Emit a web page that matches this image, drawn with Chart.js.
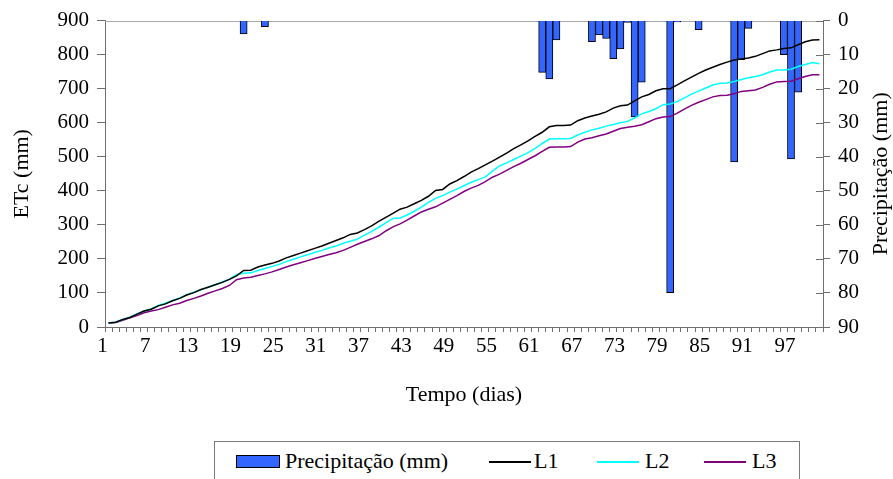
<!DOCTYPE html>
<html>
<head>
<meta charset="utf-8">
<title>ETc e precipitação</title>
<script src="https://cdn.jsdelivr.net/npm/chart.js@4/dist/chart.umd.min.js"></script>
<style>
  html, body { margin: 0; padding: 0; background: #fff; }
  #wrap { position: relative; width: 893px; height: 479px; overflow: hidden;
          font-family: "Liberation Serif", serif; }
  #chart { position: absolute; left: 0; top: 0; }
  #legendBox { position: absolute; left: 214px; top: 441px; width: 586px; height: 60px;
               border: 1px solid #7a7a7a; box-sizing: border-box; background: #fff; }
  .lg { position: absolute; }
  .lgText { font-size: 22px; line-height: 26px; top: 448px; color: #000; white-space: nowrap; }
  .lgRect { top: 455px; width: 44px; height: 13px; box-sizing: border-box; border: 1px solid #000; }
  .lgLine { top: 461px; width: 42px; height: 2px; }
</style>
</head>
<body>
<div id="wrap">
  <canvas id="chart" width="893" height="479"></canvas>
  <div id="legendBox"></div>
</div>
<script>
// Days after planting (category axis)
const days = [
  1, 2, 3, 4, 5, 6, 7, 8, 9, 10, 11, 12, 13, 14, 15, 16, 17, 18, 19, 20,
  21, 22, 23, 24, 25, 26, 27, 28, 29, 30, 31, 32, 33, 34, 35, 36, 37, 38, 39, 40,
  41, 42, 43, 44, 45, 46, 47, 48, 49, 50, 51, 52, 53, 54, 55, 56, 57, 58, 59, 60,
  61, 62, 63, 64, 65, 66, 67, 68, 69, 70, 71, 72, 73, 74, 75, 76, 77, 78, 79, 80,
  81, 82, 83, 84, 85, 86, 87, 88, 89, 90, 91, 92, 93, 94, 95, 96, 97, 98, 99, 100, 101
];

// Labelled days on the time axis
const xTickLabels = ['1', '7', '13', '19', '25', '31', '37', '43', '49', '55', '61', '67', '73', '79', '85', '91', '97'];

// Accumulated crop evapotranspiration (mm) for each treatment
const etcL1 = [
  12, 14, 22, 28, 38, 47, 52, 62, 68, 77, 84, 94, 101, 110, 117, 124, 131, 140, 150, 166,
  167, 176, 182, 187, 194, 203, 210, 217, 224, 231, 238, 246, 254, 262, 272, 276, 286, 297, 310, 322,
  334, 346, 352, 362, 372, 384, 401, 404, 420, 430, 442, 455, 465, 476, 487, 499, 511, 524, 535, 547,
  560, 572, 588, 592, 592, 593, 606, 614, 620, 625, 632, 643, 650, 652, 664, 676, 683, 694, 700, 700,
  711, 723, 734, 745, 755, 763, 771, 778, 784, 787, 790, 795, 803, 811, 814, 818, 820, 829, 838, 843, 844
];
const etcL2 = [
  12, 14, 22, 29, 38, 47, 53, 63, 70, 77, 85, 95, 102, 109, 117, 124, 132, 140, 154, 158,
  159, 166, 172, 178, 184, 192, 199, 206, 212, 219, 225, 232, 238, 246, 252, 258, 270, 281, 293, 306,
  319, 320, 329, 340, 352, 366, 378, 386, 396, 405, 415, 425, 433, 441, 458, 473, 482, 492, 502, 512,
  525, 539, 552, 553, 553, 554, 564, 572, 579, 584, 590, 595, 600, 604, 614, 626, 633, 641, 653, 655,
  662, 673, 684, 693, 702, 711, 716, 717, 721, 727, 732, 736, 741, 749, 755, 755, 757, 765, 771, 777, 773
];
const etcL3 = [
  12, 13, 20, 27, 34, 42, 47, 51, 58, 65, 70, 78, 84, 91, 99, 106, 113, 122, 139, 144,
  146, 151, 156, 162, 169, 176, 183, 189, 195, 201, 207, 213, 218, 225, 234, 243, 251, 259, 268, 282,
  294, 303, 314, 326, 338, 346, 353, 364, 375, 386, 398, 408, 416, 427, 440, 449, 460, 471, 481, 492,
  503, 516, 528, 529, 529, 530, 543, 552, 556, 562, 567, 575, 583, 587, 590, 594, 603, 612, 617, 618,
  628, 640, 651, 660, 668, 676, 680, 681, 685, 692, 694, 696, 704, 713, 720, 721, 722, 729, 736, 741, 741
];

// Rainfall events: day and depth (mm)
const rainDays = [20, 23, 62, 63, 64, 69, 70, 71, 72, 73, 74, 75, 76, 80, 81, 84, 89, 90, 91, 96, 97, 98];
const rainMm   = [3.9, 1.8, 15.2, 17.1, 5.7, 6.2, 4.2, 5.2, 11.2, 8.3, 0.5, 28.3, 18.1, 79.9, 0.4, 2.7, 41.5, 11.5, 2.3, 10.0, 40.6, 21.0];

const rainSeries = days.map(d => {
  const k = rainDays.indexOf(d);
  return k >= 0 ? rainMm[k] : null;
});

const SERIF = 'Liberation Serif';
const AXIS = '#6f6f6f';
const RAIN_COLOR = '#3366ff';
const LINE_COLORS = { L1: '#000000', L2: '#00ffff', L3: '#800080' };

Chart.defaults.font.family = SERIF;
Chart.defaults.color = '#000';

// Plot-area top edge, inner half of the right-axis ticks and the right-hand title
const framePlugin = {
  id: 'frame',
  beforeDatasetsDraw(chart) {
    const { ctx, chartArea: a } = chart;
    ctx.save();
    ctx.strokeStyle = '#a8a8a8';
    ctx.lineWidth = 1;
    ctx.beginPath();
    ctx.moveTo(a.left, Math.round(a.top) + 0.5);
    ctx.lineTo(a.right, Math.round(a.top) + 0.5);
    ctx.stroke();
    ctx.restore();
  },
  afterDraw(chart) {
    const { ctx, chartArea: a, scales } = chart;
    const y2 = scales.y2;
    ctx.save();
    ctx.strokeStyle = AXIS;
    ctx.lineWidth = 1;
    y2.ticks.forEach(t => {
      const py = Math.round(y2.getPixelForValue(t.value)) + 0.5;
      ctx.beginPath();
      ctx.moveTo(a.right - 7, py);
      ctx.lineTo(a.right, py);
      ctx.stroke();
    });
    ctx.fillStyle = '#000';
    ctx.font = '22px "' + SERIF + '"';
    ctx.translate(881, (a.top + a.bottom) / 2);
    ctx.rotate(-Math.PI / 2);
    ctx.textAlign = 'center';
    ctx.textBaseline = 'middle';
    ctx.fillText('Precipitação (mm)', 0, 0);
    ctx.restore();
  }
};

const chart = new Chart(document.getElementById('chart'), {
  type: 'bar',
  data: {
    labels: days.map(String),
    datasets: [
      {
        type: 'bar', label: 'Precipitação (mm)', data: rainSeries, yAxisID: 'y2',
        backgroundColor: RAIN_COLOR, borderColor: '#000', borderWidth: 1,
        barPercentage: 1, categoryPercentage: 1, order: 10
      },
      {
        type: 'line', label: 'L1', data: etcL1, yAxisID: 'y',
        borderColor: LINE_COLORS.L1, borderWidth: 1.5, pointRadius: 0, tension: 0, order: 1
      },
      {
        type: 'line', label: 'L2', data: etcL2, yAxisID: 'y',
        borderColor: LINE_COLORS.L2, borderWidth: 1.5, pointRadius: 0, tension: 0, order: 2
      },
      {
        type: 'line', label: 'L3', data: etcL3, yAxisID: 'y',
        borderColor: LINE_COLORS.L3, borderWidth: 1.5, pointRadius: 0, tension: 0, order: 3
      }
    ]
  },
  options: {
    responsive: false,
    animation: false,
    devicePixelRatio: 1,
    layout: { padding: { top: 20, bottom: 69, left: 0, right: 0 } },
    plugins: { legend: { display: false }, tooltip: { enabled: false } },
    scales: {
      x: {
        type: 'category',
        offset: true,
        grid: { display: true, drawOnChartArea: false, offset: true, tickLength: 5, color: AXIS },
        border: { color: AXIS, width: 1 },
        ticks: {
          autoSkip: false, maxRotation: 0, minRotation: 0, labelOffset: -6, padding: 2,
          color: '#000', font: { family: SERIF, size: 21 },
          callback(value) {
            const t = this.getLabelForValue(value);
            return xTickLabels.includes(t) ? t : '';
          }
        },
        title: { display: true, text: 'Tempo (dias)', color: '#000', font: { family: SERIF, size: 22 }, padding: { top: 0, bottom: 2 } },
        afterFit(scale) { scale.height = 83; }
      },
      y: {
        position: 'left', min: 0, max: 900,
        ticks: { stepSize: 100, padding: 8, color: '#000', font: { family: SERIF, size: 21 } },
        grid: { drawOnChartArea: false, tickLength: 8, color: AXIS },
        border: { color: AXIS, width: 1 },
        title: { display: true, text: 'ETc (mm)', color: '#000', font: { family: SERIF, size: 22 }, padding: { top: 9, bottom: 0 } },
        afterFit(scale) { scale.width = 105; }
      },
      y2: {
        position: 'right', min: 0, max: 90, reverse: true,
        ticks: { stepSize: 10, padding: 8, color: '#000', font: { family: SERIF, size: 21 } },
        grid: { drawOnChartArea: false, tickLength: 7, color: AXIS },
        border: { color: AXIS, width: 1 },
        afterFit(scale) { scale.width = 70; }
      }
    }
  },
  plugins: [framePlugin]
});

// Legend row under the plot, built from the datasets
const legendLayout = [
  { mark: 236, text: 285 },
  { mark: 489, text: 534 },
  { mark: 597, text: 645 },
  { mark: 704, text: 752 }
];
const wrap = document.getElementById('wrap');
chart.data.datasets.forEach((ds, i) => {
  const pos = legendLayout[i];
  const mark = document.createElement('div');
  if (ds.type === 'bar') {
    mark.className = 'lg lgRect';
    mark.style.background = ds.backgroundColor;
  } else {
    mark.className = 'lg lgLine';
    mark.style.background = ds.borderColor;
  }
  mark.style.left = pos.mark + 'px';
  wrap.appendChild(mark);
  const txt = document.createElement('span');
  txt.className = 'lg lgText';
  txt.style.left = pos.text + 'px';
  txt.textContent = ds.label;
  wrap.appendChild(txt);
});
</script>
</body>
</html>
